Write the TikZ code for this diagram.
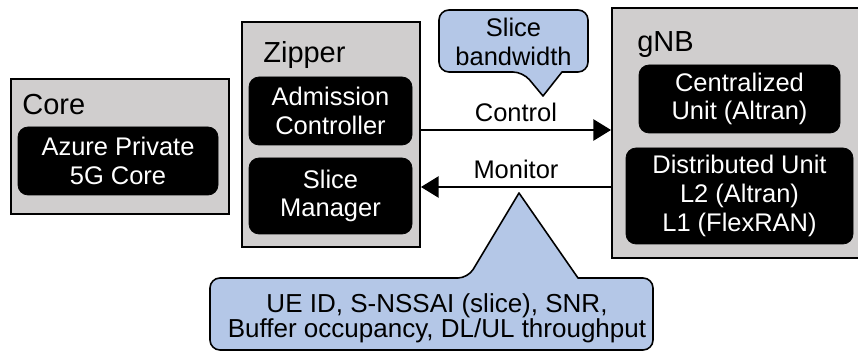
\documentclass[tikz,border=0pt]{standalone}
\usepackage{fontspec}
\setmainfont{Liberation Sans}
\usetikzlibrary{arrows.meta}
\definecolor{boxgray}{HTML}{D0CECE}
\definecolor{calloutblue}{HTML}{B4C7E7}
\newcommand\tightlines{\lineskiplimit=-10pt\relax}

\begin{document}
\begin{tikzpicture}[
    frame/.style={draw, fill=boxgray, line width=1.1pt, inner sep=0pt},
    unit/.style={draw, fill=black, text=white, rounded corners=0.2cm, align=center,
                 inner sep=0pt, font=\fontsize{14.5}{16.4}\selectfont},
    title/.style={anchor=base west, inner sep=0pt, font=\fontsize{16.5}{18}\selectfont},
    flow/.style={line width=1.1pt, -{Triangle[length=10pt,width=12pt]}},
    callout/.style={draw, fill=calloutblue, line width=0.9pt, line join=round},
    lbl/.style={inner sep=0pt, font=\fontsize{14.5}{16.4}\selectfont}
  ]
  \useasboundingbox (0,0) rectangle (17.16,-7.02);

  % Core
  \node[frame, minimum width=4.36cm, minimum height=2.70cm] (core) at (2.40,-2.93) {};
  \node[title] (coretitle) at (0.44,-2.30) {Core};
  \node[unit, minimum width=4.00cm, minimum height=1.36cm] (azure) at (2.36,-3.22) {Azure Private\\5G Core};

  % Zipper
  \node[frame, minimum width=3.56cm, minimum height=4.50cm] (zipper) at (6.62,-2.69) {};
  \node[title] (zippertitle) at (5.26,-1.26) {Zipper};
  \node[unit, minimum width=3.26cm, minimum height=1.36cm] (admission) at (6.61,-2.22) {Admission\\Controller};
  \node[unit, minimum width=3.26cm, minimum height=1.52cm] (slicemgr) at (6.61,-3.92) {Slice\\Manager};

  % gNB
  \node[frame, minimum width=5.04cm, minimum height=5.00cm] (gnb) at (14.76,-2.66) {};
  \node[title] (gnbtitle) at (12.74,-1.04) {gNB};
  \node[unit, minimum width=4.02cm, minimum height=1.36cm] (cu) at (14.79,-1.98) {Centralized\\Unit (Altran)};
  \node[unit, minimum width=4.54cm, minimum height=1.92cm] (du) at (14.79,-3.92) {Distributed Unit\\L2 (Altran)\\L1 (FlexRAN)};

  % Control and monitor links
  \coordinate (ctrl) at (10,-2.60);
  \coordinate (mon) at (10,-3.74);
  \draw[flow] (zipper.east |- ctrl) -- (gnb.west |- ctrl)
    node[lbl, midway, above=0.14cm] (ctrllbl) {Control};
  \draw[flow] (gnb.west |- mon) -- (zipper.east |- mon)
    node[lbl, midway, above=0.14cm] (monlbl) {Monitor};

  % Callouts
  \draw[callout] (10.86,-1.92) -- (11.24,-1.44) [rounded corners=0.2cm] -- (11.76,-1.44)
    -- (11.76,-0.20) -- (8.78,-0.20) -- (8.78,-1.44) -- (10.46,-1.44) [sharp corners] -- cycle;
  \node[lbl] (bwtext) at (10.27,-0.84) [align=center] {Slice\\bandwidth};

  \draw[callout] (10.38,-3.86) -- (11.56,-5.56) [rounded corners=0.2cm] -- (13.06,-5.56)
    -- (13.06,-7.00) -- (4.20,-7.00) -- (4.20,-5.56) -- (9.36,-5.56) [sharp corners] -- cycle;
  \node[lbl, align=center, font=\fontsize{14.8}{14.2}\selectfont\tightlines] (kpitext)
    at (8.74,-6.36) {UE ID, S-NSSAI (slice), SNR,\\Buffer occupancy, DL/UL throughput};
\end{tikzpicture}
\end{document}
